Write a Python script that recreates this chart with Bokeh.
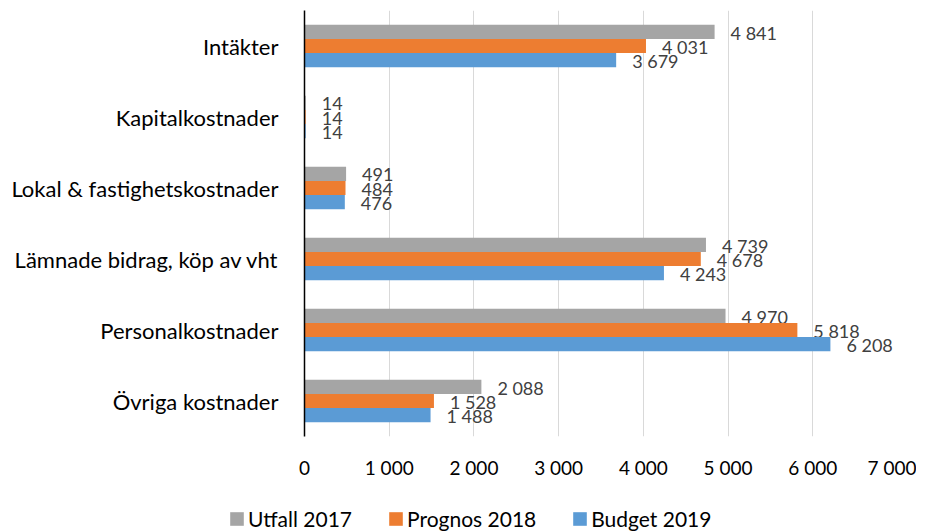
from bokeh.plotting import figure
from bokeh.models import FactorRange, Range1d, FixedTicker, Legend, LegendItem, ColumnDataSource
from bokeh.transform import dodge
from bokeh.core.properties import value
from bokeh.embed import file_html
from bokeh.resources import INLINE

categories = ["Intäkter", "Kapitalkostnader", "Lokal & fastighetskostnader",
              "Lämnade bidrag, köp av vht", "Personalkostnader", "Övriga kostnader"]
utfall_2017 = [4841, 14, 491, 4739, 4970, 2088]
prognos_2018 = [4031, 14, 484, 4678, 5818, 1528]
budget_2019 = [3679, 14, 476, 4243, 6208, 1488]
series_names = ["Utfall 2017", "Prognos 2018", "Budget 2019"]
series_colors = ["#A5A5A5", "#ED7D31", "#5B9BD5"]
x_ticks = [0, 1000, 2000, 3000, 4000, 5000, 6000, 7000]
x_tick_labels = ["0", "1 000", "2 000", "3 000", "4 000", "5 000", "6 000", "7 000"]

FONT = "Lato"


def fmt(v):
    return f"{v:,}".replace(",", " ")


series_values = [utfall_2017, prognos_2018, budget_2019]

p = figure(width=916, height=496, output_backend="svg", toolbar_location=None,
           x_range=Range1d(0, 7000), y_range=FactorRange(*reversed(categories)),
           min_border_left=304, min_border_right=19, min_border_top=10, min_border_bottom=60)
p.outline_line_color = None
p.background_fill_color = "white"

offsets = [0.2, 0.0, -0.2]
for name, vals, col, off in zip(series_names, series_values, series_colors, offsets):
    src = ColumnDataSource(dict(cat=categories, v=vals, lab=[fmt(v) for v in vals]))
    p.hbar(y=dodge("cat", off, range=p.y_range), left=0, right="v", height=0.2,
           source=src, fill_color=col, line_color=None)
    p.text(x="v", y=dodge("cat", off, range=p.y_range), text="lab", source=src,
           x_offset=16, y_offset=1, text_baseline="middle", text_align="left",
           text_font=value(FONT), text_font_size="18px", text_color="#404040")

p.xaxis.ticker = FixedTicker(ticks=x_ticks)
p.xaxis.major_label_overrides = {t: l for t, l in zip(x_ticks, x_tick_labels)}
p.xaxis.axis_line_color = None
p.xaxis.major_tick_line_color = None
p.xaxis.minor_tick_line_color = None
p.xaxis.major_label_standoff = 13
p.xaxis.major_label_text_font = FONT
p.xaxis.major_label_text_font_size = "19px"
p.xaxis.major_label_text_color = "#000000"

p.yaxis.axis_line_color = "black"
p.yaxis.axis_line_width = 1.5
p.yaxis.major_tick_line_color = None
p.yaxis.minor_tick_line_color = None
p.yaxis.major_label_standoff = 20
p.yaxis.major_label_text_font = FONT
p.yaxis.major_label_text_font_size = "22px"
p.yaxis.major_label_text_color = "#000000"

p.xgrid.grid_line_color = "#D9D9D9"
p.xgrid.grid_line_width = 1
p.ygrid.grid_line_color = None

# legend strip below the chart (separate root, so its frame spans the full width)
lg = figure(width=916, height=35, output_backend="svg", toolbar_location=None,
            x_range=Range1d(0, 1), y_range=FactorRange(*categories),
            x_axis_location=None, y_axis_location=None,
            min_border_left=0, min_border_right=0, min_border_top=0, min_border_bottom=0)
lg.outline_line_color = None
lg.xgrid.grid_line_color = None
lg.ygrid.grid_line_color = None
items = []
for name, vals, col in zip(series_names, series_values, series_colors):
    src = ColumnDataSource(dict(cat=categories, v=vals))
    r = lg.hbar(y="cat", left=0, right="v", height=0, source=src,
                fill_color=col, line_color=None)
    items.append(LegendItem(label=name, renderers=[r]))
legend = Legend(items=items, orientation="horizontal", location=(228, 0),
                glyph_width=17, glyph_height=17, label_standoff=3, spacing=35,
                label_text_font=FONT, label_text_font_size="21px", label_text_color="#000000",
                border_line_color=None, background_fill_alpha=0, padding=0, margin=0)
lg.add_layout(legend, "center")

open("out.html", "w").write(file_html([p, lg], INLINE))
